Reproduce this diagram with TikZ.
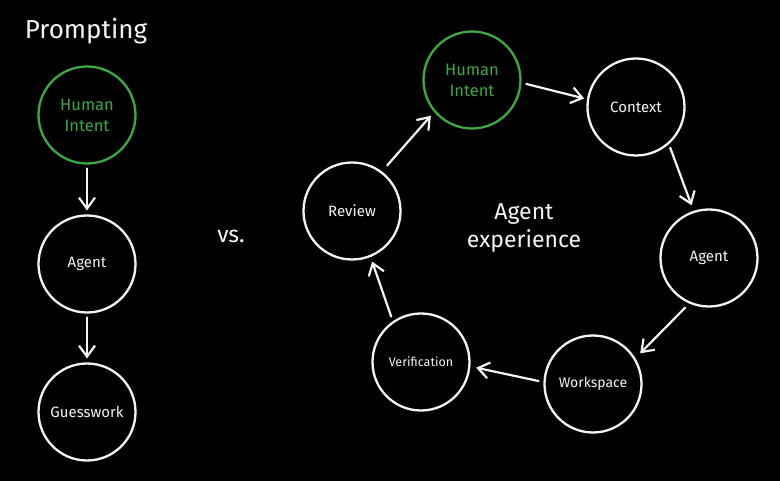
\documentclass[tikz,border=0pt]{standalone}
\usepackage{fontspec}
\setmainfont{Fira Sans}
\usepackage{xcolor}
\usepackage{tikz}
\usetikzlibrary{arrows.meta, positioning}
\definecolor{canvas}{HTML}{000000}
\definecolor{chalk}{HTML}{F4F4F4}
\definecolor{intent}{HTML}{3DA845}
\tikzset{
  stage/.style    = {circle, draw=chalk, line width=2.3pt, minimum size=97pt, inner sep=0pt,
                     outer sep=0pt, align=center, text=chalk, font=\fontsize{15}{19}\selectfont},
  stagehl/.style  = {stage, draw=intent, text=intent, font=\fontsize{16.5}{21}\selectfont},
  flow/.style     = {-{Straight Barb[length=11pt, width=16pt, line width=2.2pt]}, draw=chalk,
                     line width=2.2pt, line cap=round, shorten <=7pt, shorten >=6pt},
  heading/.style  = {text=chalk, align=center, font=\fontsize{23}{28}\selectfont},
}

\begin{document}
\begin{tikzpicture}[x=1pt, y=-1pt]
  \fill[canvas] (0,0) rectangle (780,481);
  \useasboundingbox (0,0) rectangle (780,481);

  % prompting: a straight line
  \node[heading, anchor=base, font=\fontsize{26}{30}\selectfont] (prompting) at (86,39) {Prompting};
  \node[stagehl] (intentL) at (87,115) {Human\\Intent};
  \node[stage, below=52pt of intentL] (agentL) {Agent};
  \node[stage, below=51pt of agentL] (guess) {Guesswork};

  \draw[flow, shorten <=5pt, shorten >=5pt] (intentL) -- (agentL);
  \draw[flow, shorten <=5pt, shorten >=5pt] (agentL) -- (guess);

  \node[heading, anchor=base] (versus) at (231,243) {vs.};

  % agent experience: a loop
  \node[stagehl] (intentR) at (472,80) {Human\\Intent};
  \node[stage] (context) at (636,107) {Context};
  \node[stage] (agentR) at (709,258) {Agent};
  \node[stage, font=\fontsize{14}{18}\selectfont] (workspace) at (593,384) {Workspace};
  \node[stage, font=\fontsize{12.5}{16}\selectfont] (verify) at (421,362) {Verification};
  \node[stage] (review) at (352,211) {Review};

  \draw[flow, shorten <=6pt, shorten >=4pt] (intentR.-3) -- (context.171);
  \draw[flow, shorten <=5pt, shorten >=7pt] (context.-48) -- (agentR.108);
  \draw[flow, shorten <=7pt, shorten >=8pt] (agentR.-113) -- (workspace.31);
  \draw[flow, shorten <=6pt, shorten >=7pt] (workspace.178) -- (verify.-5);
  \draw[flow, shorten <=6pt, shorten >=6pt] (verify.125) -- (review.-68);
  \draw[flow, shorten <=9pt, shorten >=6pt] (review.53) -- (intentR.220);

  \node[heading] (loop) at (524,228) {Agent\\experience};
\end{tikzpicture}
\end{document}
